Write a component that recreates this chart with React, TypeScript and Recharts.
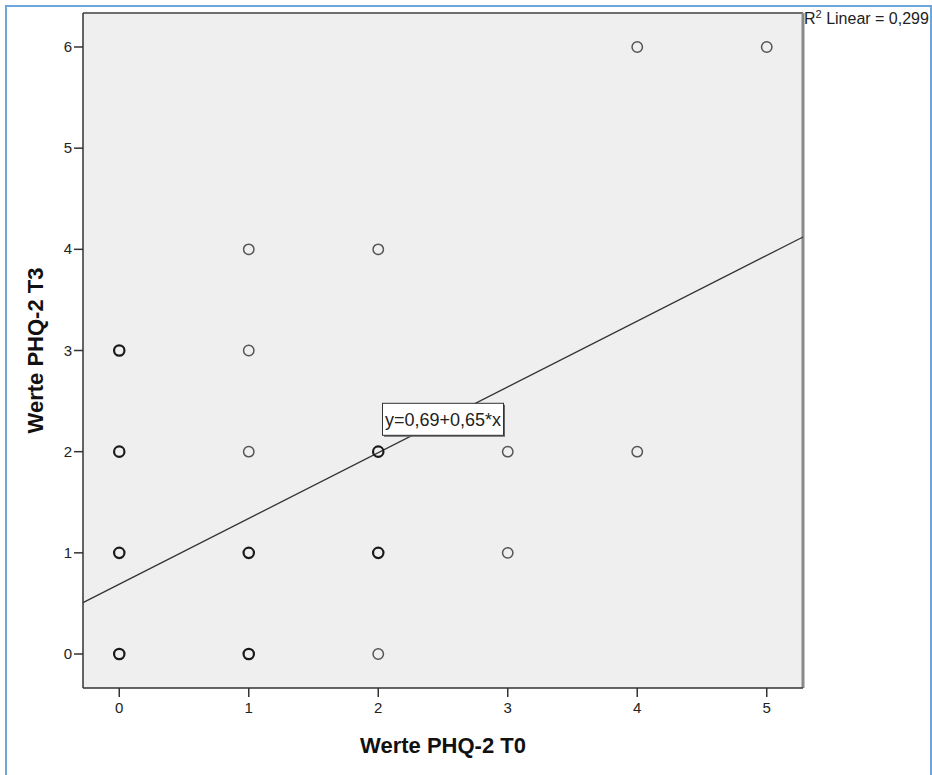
import {
  ScatterChart,
  Scatter,
  XAxis,
  YAxis,
  ReferenceArea,
  ReferenceLine,
  ReferenceDot,
  Label,
} from "recharts";

// observed PHQ-2 pairs (T0 -> T3), n = how many cases sit on the same spot
const pointT0 = [0, 0, 0, 0, 1, 1, 1, 1, 1, 2, 2, 2, 2, 3, 3, 4, 4, 5];
const pointT3 = [0, 1, 2, 3, 0, 1, 2, 3, 4, 0, 1, 2, 4, 1, 2, 2, 6, 6];
const pointN = [3, 2, 2, 2, 2, 2, 1, 1, 1, 1, 2, 2, 1, 1, 1, 1, 1, 1];

const xTicks = [0, 1, 2, 3, 4, 5];
const yTicks = [0, 1, 2, 3, 4, 5, 6];
const xDomain = [-0.28, 5.28];
const yDomain = [-0.336, 6.336];

// linear fit
const intercept = 0.69;
const slope = 0.65;
const rSquared = "0,299";
const equationText = "y=0,69+0,65*x";
const equationAnchor = { x: 2.5, y: 2.32 };

const points = pointT0.map((x, i) => ({ x, y: pointT3[i], n: pointN[i] }));

const font = "'Liberation Sans', Arial, sans-serif";

function Ring(props: any) {
  const { cx, cy, payload } = props;
  const multi = payload && payload.n > 1;
  return (
    <circle
      cx={cx}
      cy={cy}
      r={5.2}
      fill="none"
      stroke={multi ? "#1a1a1a" : "#555"}
      strokeWidth={multi ? 2.2 : 1.5}
    />
  );
}

function XTick(props: any) {
  const { x, y, payload } = props;
  return (
    <text x={x} y={y + 13} textAnchor="middle" fontSize={15} fill="#222" fontFamily={font}>
      {payload.value}
    </text>
  );
}

function YTick(props: any) {
  const { x, y, payload } = props;
  return (
    <text x={x} y={y + 5} textAnchor="end" fontSize={15} fill="#222" fontFamily={font}>
      {payload.value}
    </text>
  );
}

function EquationBox(props: any) {
  const { cx, cy } = props;
  const w = 121;
  const h = 32;
  return (
    <g>
      <rect x={cx - w / 2 + 1.5} y={cy - h / 2 + 1.5} width={w} height={h} fill="#666" />
      <rect x={cx - w / 2} y={cy - h / 2} width={w} height={h} fill="#fff" stroke="#333" strokeWidth={1} />
      <text x={cx} y={cy + 6.5} textAnchor="middle" fontSize={18} fill="#222" fontFamily={font}>
        {equationText}
      </text>
    </g>
  );
}

export default function App() {
  return (
    <div style={{ position: "absolute", left: 0, top: 0, width: 932, height: 775, background: "#fff", overflow: "hidden", fontFamily: font }}>
      <div
        style={{
          position: "absolute",
          left: 5,
          top: 5,
          width: 927,
          height: 800,
          border: "2px solid #6ea6dc",
          borderBottom: "none",
          boxSizing: "border-box",
        }}
      />

      <ScatterChart width={932} height={775} margin={{ top: 13, right: 129, bottom: 47, left: 33 }}>
        <ReferenceArea x1={xDomain[0]} x2={xDomain[1]} y1={yDomain[0]} y2={yDomain[1]} fill="#efefef" fillOpacity={1} stroke="none" ifOverflow="visible" />

        <XAxis
          type="number"
          dataKey="x"
          domain={xDomain}
          ticks={xTicks}
          allowDataOverflow
          height={40}
          tickSize={9}
          tickMargin={3}
          tick={<XTick />}
          tickLine={{ stroke: "#333", strokeWidth: 1.5 }}
          axisLine={{ stroke: "#333", strokeWidth: 1.5 }}
        >
          <Label
            content={(p: any) => {
              const vb = p.viewBox;
              return (
                <text x={vb.x + vb.width / 2} y={vb.y + 65} textAnchor="middle" fontSize={22} fontWeight="bold" fill="#111" fontFamily={font}>
                  Werte PHQ-2 T0
                </text>
              );
            }}
          />
        </XAxis>

        <YAxis
          type="number"
          dataKey="y"
          domain={yDomain}
          ticks={yTicks}
          allowDataOverflow
          width={50}
          tickSize={9}
          tickMargin={2}
          tick={<YTick />}
          tickLine={{ stroke: "#333", strokeWidth: 1.5 }}
          axisLine={{ stroke: "#333", strokeWidth: 1.5 }}
        >
          <Label
            content={(p: any) => {
              const vb = p.viewBox;
              const cx = vb.x + 10;
              const cy = vb.y + vb.height / 2;
              return (
                <text x={cx} y={cy} transform={`rotate(-90, ${cx}, ${cy})`} textAnchor="middle" fontSize={22} fontWeight="bold" fill="#111" fontFamily={font}>
                  Werte PHQ-2 T3
                </text>
              );
            }}
          />
        </YAxis>

        {/* frame on top and right side of the plot */}
        <ReferenceLine y={yDomain[1]} stroke="#6e6e6e" strokeWidth={2} ifOverflow="visible" />
        <ReferenceLine x={xDomain[1]} stroke="#8a8a8a" strokeWidth={3} ifOverflow="visible" />

        <ReferenceLine
          segment={[
            { x: xDomain[0], y: intercept + slope * xDomain[0] },
            { x: xDomain[1], y: intercept + slope * xDomain[1] },
          ]}
          stroke="#333"
          strokeWidth={1.3}
          ifOverflow="visible"
        />

        <Scatter data={points} shape={Ring} isAnimationActive={false} />

        <ReferenceDot x={equationAnchor.x} y={equationAnchor.y} r={0} shape={EquationBox} ifOverflow="visible" />
      </ScatterChart>

      <div style={{ position: "absolute", left: 804, top: 10, fontSize: 16, color: "#222", whiteSpace: "nowrap", lineHeight: "18px" }}>
        R<span style={{ fontSize: 11, position: "relative", top: -6 }}>2</span> Linear = {rSquared}
      </div>
    </div>
  );
}
